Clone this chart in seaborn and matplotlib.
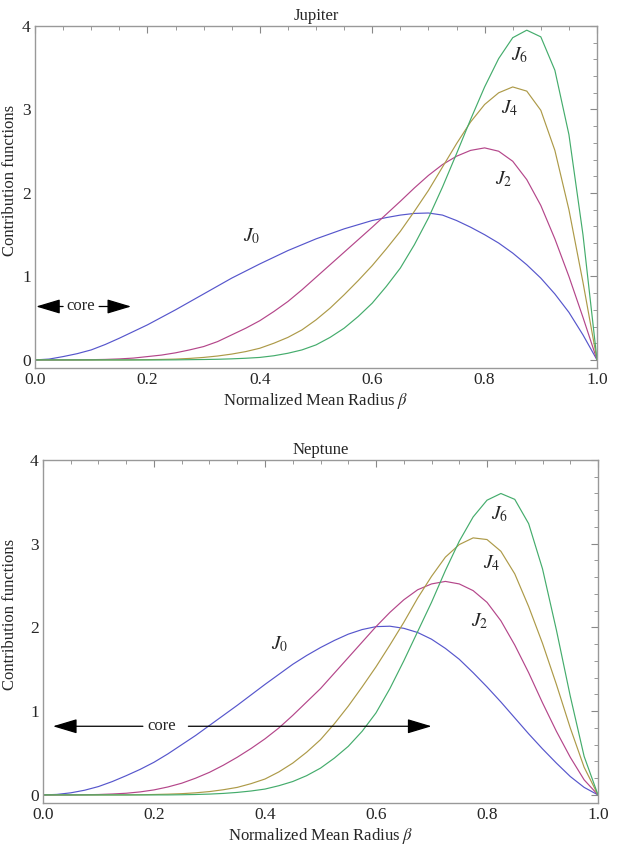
import numpy as np
import pandas as pd
import matplotlib
matplotlib.use("Agg")
import matplotlib.pyplot as plt
from matplotlib.ticker import MultipleLocator
import seaborn as sns

# radius grid, step 0.025
beta = [round(0.025 * i, 3) for i in range(41)]

# Jupiter contribution functions
jup_j0 = [0, 0.01, 0.04, 0.075, 0.12, 0.185, 0.26, 0.34, 0.42, 0.51, 0.60, 0.695,
          0.79, 0.885, 0.98, 1.065, 1.15, 1.23, 1.31, 1.38, 1.45, 1.51, 1.57, 1.62,
          1.67, 1.705, 1.735, 1.755, 1.76, 1.735, 1.67, 1.59, 1.50, 1.40, 1.28, 1.14,
          0.98, 0.79, 0.57, 0.30, 0]
jup_j2 = [0, 0, 0, 0.001, 0.003, 0.006, 0.012, 0.022, 0.04, 0.058, 0.085, 0.12,
          0.16, 0.22, 0.30, 0.38, 0.47, 0.58, 0.70, 0.84, 0.99, 1.14, 1.29, 1.44,
          1.59, 1.745, 1.90, 2.06, 2.21, 2.34, 2.44, 2.51, 2.54, 2.50, 2.38, 2.16,
          1.85, 1.45, 1.00, 0.51, 0]
jup_j4 = [0, 0, 0, 0, 0, 0, 0, 0.001, 0.003, 0.006, 0.01, 0.018,
          0.03, 0.047, 0.07, 0.10, 0.14, 0.20, 0.27, 0.36, 0.48, 0.62, 0.78, 0.95,
          1.13, 1.33, 1.54, 1.78, 2.03, 2.31, 2.59, 2.85, 3.06, 3.20, 3.27, 3.22,
          2.99, 2.51, 1.80, 0.93, 0]
jup_j6 = [0, 0, 0, 0, 0, 0, 0, 0, 0, 0, 0.001, 0.003,
          0.005, 0.008, 0.013, 0.02, 0.03, 0.05, 0.08, 0.12, 0.18, 0.27, 0.38, 0.52,
          0.68, 0.88, 1.10, 1.38, 1.70, 2.07, 2.47, 2.88, 3.27, 3.61, 3.86, 3.95,
          3.87, 3.47, 2.70, 1.50, 0]

# Neptune contribution functions
nep_j0 = [0, 0.006, 0.025, 0.056, 0.10, 0.16, 0.23, 0.305, 0.39, 0.49, 0.60, 0.71,
          0.83, 0.95, 1.07, 1.195, 1.32, 1.44, 1.56, 1.665, 1.76, 1.845, 1.92, 1.975,
          2.01, 2.015, 1.99, 1.94, 1.86, 1.75, 1.62, 1.46, 1.29, 1.11, 0.92, 0.73,
          0.55, 0.38, 0.22, 0.09, 0]
nep_j2 = [0, 0, 0, 0.002, 0.005, 0.011, 0.02, 0.036, 0.06, 0.095, 0.14, 0.20,
          0.27, 0.355, 0.45, 0.555, 0.67, 0.80, 0.95, 1.11, 1.27, 1.455, 1.64, 1.825,
          2.01, 2.18, 2.33, 2.45, 2.52, 2.55, 2.52, 2.44, 2.30, 2.08, 1.79, 1.46,
          1.10, 0.76, 0.45, 0.18, 0]
nep_j4 = [0, 0, 0, 0, 0, 0, 0, 0.002, 0.005, 0.009, 0.015, 0.025,
          0.04, 0.062, 0.09, 0.135, 0.19, 0.275, 0.38, 0.51, 0.66, 0.85, 1.06, 1.29,
          1.53, 1.79, 2.06, 2.35, 2.61, 2.84, 2.99, 3.07, 3.05, 2.91, 2.64, 2.25,
          1.81, 1.32, 0.80, 0.33, 0]
nep_j6 = [0, 0, 0, 0, 0, 0, 0, 0, 0, 0, 0.002, 0.005,
          0.01, 0.018, 0.03, 0.047, 0.07, 0.11, 0.16, 0.23, 0.32, 0.44, 0.58, 0.76,
          0.98, 1.27, 1.60, 1.95, 2.30, 2.68, 3.03, 3.32, 3.52, 3.60, 3.53, 3.24,
          2.70, 1.97, 1.18, 0.46, 0]

series_names = ["J0", "J2", "J4", "J6"]
colors = {"J0": "#5656cc", "J2": "#b4468a", "J4": "#ad9a48", "J6": "#44ac6c"}

sns.set_style("white")
plt.rcParams["font.family"] = ["Liberation Serif", "DejaVu Serif"]
plt.rcParams["mathtext.fontset"] = "stix"

fig = plt.figure(figsize=(6.23, 8.47), dpi=100)
ax_top = fig.add_axes([0.0562, 0.5652, 0.9021, 0.4041])
ax_bot = fig.add_axes([0.0690, 0.0516, 0.8909, 0.4053])

FS = 12


def to_long(curves):
    rows = []
    for name, vals in zip(series_names, curves):
        for b, v in zip(beta, vals):
            rows.append({"beta": b, "value": v, "series": name})
    return pd.DataFrame(rows)


def style_axes(ax, title):
    ax.set_xlim(0, 1)
    ax.set_ylim(-0.1, 4.0)
    ax.xaxis.set_major_locator(MultipleLocator(0.2))
    ax.xaxis.set_minor_locator(MultipleLocator(0.05))
    ax.yaxis.set_major_locator(MultipleLocator(1))
    ax.yaxis.set_minor_locator(MultipleLocator(0.2))
    ax.set_xticklabels([f"{t:.1f}" for t in ax.get_xticks()])
    ax.set_yticklabels([f"{int(t)}" for t in ax.get_yticks()])
    ax.tick_params(which="both", direction="in", top=True, right=True,
                   color="#888888", labelsize=FS + 0.5, pad=3)
    ax.tick_params(which="major", length=5, width=0.8)
    ax.tick_params(which="minor", length=3, width=0.6)
    for sp in ax.spines.values():
        sp.set_color("#999999")
        sp.set_linewidth(1.0)
    ax.set_title(title, fontsize=FS, pad=4)
    ax.set_xlabel(r"Normalized Mean Radius $\beta$", fontsize=FS, labelpad=2)
    ax.set_ylabel("Contribution functions", fontsize=FS)
    if ax.get_legend() is not None:
        ax.get_legend().remove()


def core_arrow(ax, text_x, y, left_from, left_to, right_from, right_to):
    ax.text(text_x, y, "core", ha="center", va="center", fontsize=FS)
    props = dict(arrowstyle="-|>,head_length=1.5,head_width=0.45",
                 color="black", lw=0.9, shrinkA=0, shrinkB=0)
    ax.annotate("", xy=(left_to, y), xytext=(left_from, y), arrowprops=props)
    ax.annotate("", xy=(right_to, y), xytext=(right_from, y), arrowprops=props)


# Jupiter
df_jup = to_long([jup_j0, jup_j2, jup_j4, jup_j6])
sns.lineplot(data=df_jup, x="beta", y="value", hue="series", palette=colors,
             estimator=None, sort=False, lw=0.85, ax=ax_top)
style_axes(ax_top, "Jupiter")
ax_top.yaxis.set_label_coords(-0.031, 0.55)
core_arrow(ax_top, 0.082, 0.64, 0.050, 0.002, 0.114, 0.171)
ax_top.text(0.386, 1.48, r"$J_0$", fontsize=14, ha="center", va="center")
ax_top.text(0.833, 2.16, r"$J_2$", fontsize=14, ha="center", va="center")
ax_top.text(0.845, 3.02, r"$J_4$", fontsize=14, ha="center", va="center")
ax_top.text(0.863, 3.65, r"$J_6$", fontsize=14, ha="center", va="center")

# Neptune
df_nep = to_long([nep_j0, nep_j2, nep_j4, nep_j6])
sns.lineplot(data=df_nep, x="beta", y="value", hue="series", palette=colors,
             estimator=None, sort=False, lw=0.85, ax=ax_bot)
style_axes(ax_bot, "Neptune")
ax_bot.yaxis.set_label_coords(-0.045, 0.55)
core_arrow(ax_bot, 0.214, 0.82, 0.180, 0.018, 0.262, 0.70)
ax_bot.text(0.427, 1.80, r"$J_0$", fontsize=14, ha="center", va="center")
ax_bot.text(0.787, 2.08, r"$J_2$", fontsize=14, ha="center", va="center")
ax_bot.text(0.808, 2.77, r"$J_4$", fontsize=14, ha="center", va="center")
ax_bot.text(0.823, 3.35, r"$J_6$", fontsize=14, ha="center", va="center")

fig.savefig("out.png", dpi=100)
